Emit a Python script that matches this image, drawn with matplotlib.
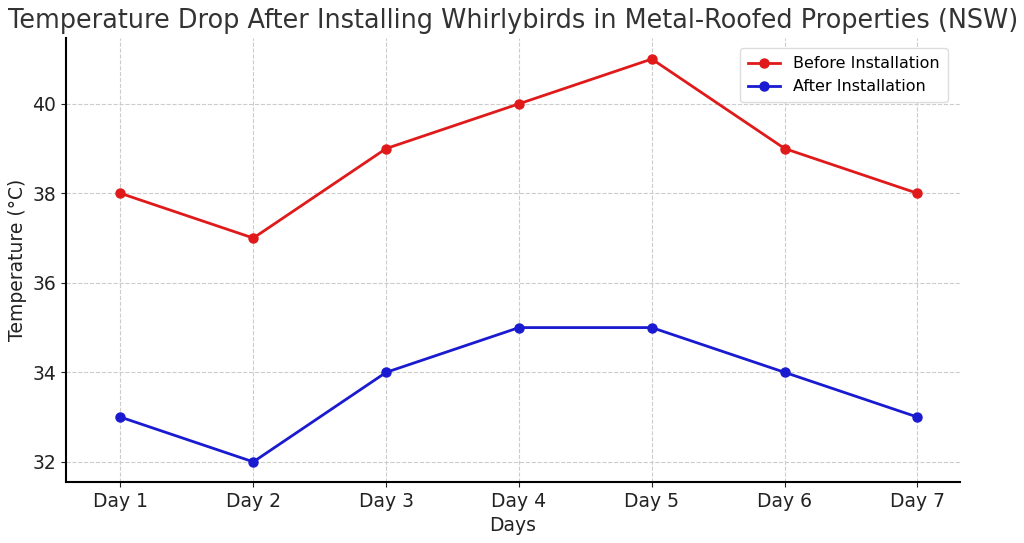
import matplotlib.pyplot as plt

days = ["Day 1", "Day 2", "Day 3", "Day 4", "Day 5", "Day 6", "Day 7"]
before = [38, 37, 39, 40, 41, 39, 38]
after = [33, 32, 34, 35, 35, 34, 33]

fig = plt.figure(figsize=(10.24, 5.43), dpi=100)
ax = fig.add_axes([66/1024, 1 - 482/543, (960-66)/1024, (482-38)/543])

x = range(len(days))
ax.plot(x, before, color="#e01a1a", marker="o", linewidth=2, markersize=6.5, label="Before Installation")
ax.plot(x, after, color="#1a1ad0", marker="o", linewidth=2, markersize=6.5, label="After Installation")

ax.set_xticks(list(x))
ax.set_xticklabels(days)
ax.set_xlim(-0.41, 6.32)
ax.set_ylim(31.55, 41.47)
ax.set_yticks([32, 34, 36, 38, 40])
ax.tick_params(labelsize=13.5, colors="#222222")
ax.grid(True, linestyle="--", color="#cccccc", linewidth=0.8)
ax.spines["top"].set_visible(False)
ax.spines["right"].set_visible(False)
ax.spines["left"].set_linewidth(1.5)
ax.spines["bottom"].set_linewidth(1.5)

ax.set_title("Temperature Drop After Installing Whirlybirds in Metal-Roofed Properties (NSW)",
             fontsize=18.4, color="#333333", pad=7)
ax.set_xlabel("Days", fontsize=13.5, color="#222222")
ax.set_ylabel("Temperature (°C)", fontsize=13.5, color="#222222")
ax.legend(loc="upper right", fontsize=11.5, framealpha=1, edgecolor="#dddddd",
          borderpad=0.5, bbox_to_anchor=(0.995, 0.995))

fig.savefig("out.png", dpi=100)
